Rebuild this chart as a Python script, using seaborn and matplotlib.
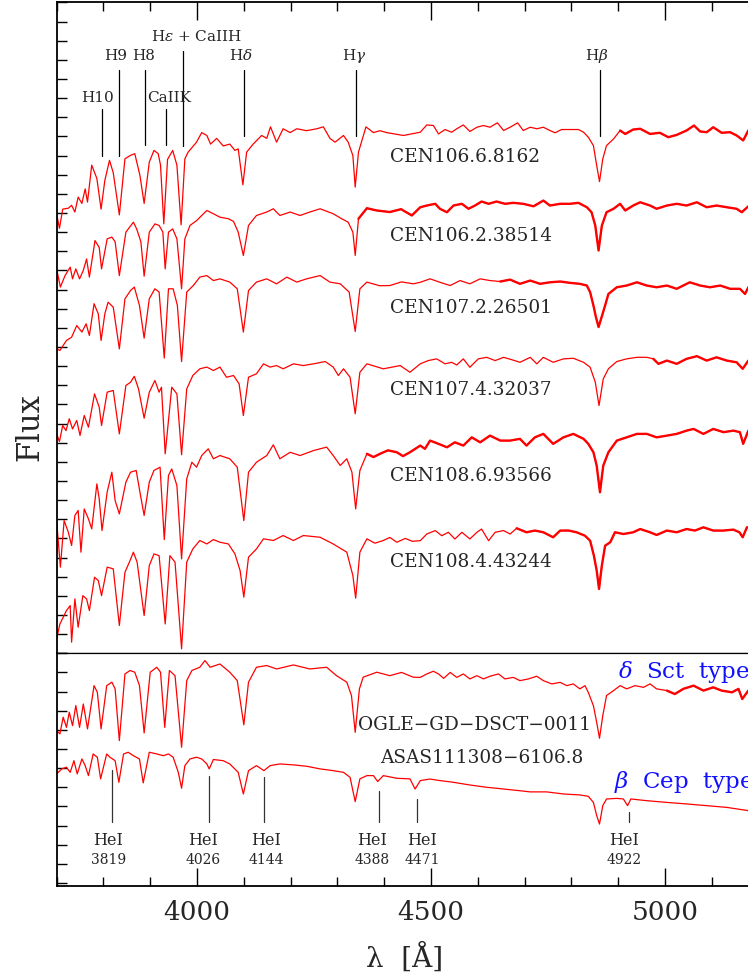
import pandas as pd
import seaborn as sns
import matplotlib.pyplot as plt
from matplotlib.ticker import MultipleLocator

# spectra: (wavelength [A], flux in tick units, offsets included)
cen106_6_8162 = [
    (3700, 22.96), (3706, 22.2), (3713, 23.2), (3725, 23.25), (3732, 23.4), (3739, 23.05),
    (3746, 23.83), (3754, 23.5), (3761, 24.26), (3766, 23.57), (3775, 25.5), (3786, 24.8),
    (3795, 23.2), (3803, 24.7), (3813, 25.75), (3821, 25.1), (3834, 22.9), (3846, 25.83),
    (3857, 26.0), (3867, 26.1), (3878, 24.96), (3887, 23.5), (3898, 25.66), (3908, 26.27),
    (3917, 26.1), (3922, 25.5), (3929, 22.43), (3937, 25.8), (3948, 26.27), (3957, 25.5),
    (3966, 22.38), (3974, 25.83), (3981, 26.18), (3999, 26.7), (4010, 27.2), (4021, 27.05),
    (4029, 26.6), (4042, 26.9), (4056, 26.5), (4070, 26.6), (4081, 26.27), (4088, 26.35),
    (4098, 24.47), (4106, 26.18), (4120, 26.6), (4138, 27.05), (4149, 26.9), (4157, 27.5),
    (4170, 26.7), (4184, 27.4), (4199, 27.2), (4213, 27.4), (4234, 27.3), (4256, 27.4),
    (4270, 27.5), (4284, 26.9), (4295, 26.7), (4313, 27.05), (4323, 26.7), (4333, 26.0),
    (4338, 24.35), (4345, 26.18), (4361, 27.5), (4377, 27.2), (4391, 27.3), (4405, 27.2),
    (4441, 27.05), (4477, 27.22), (4491, 27.6), (4505, 27.57), (4516, 27.13), (4530, 27.36),
    (4544, 27.22), (4555, 27.4), (4569, 27.6), (4583, 27.26), (4598, 27.48), (4612, 27.57),
    (4626, 27.48), (4642, 27.71), (4655, 27.31), (4669, 27.48), (4685, 27.71), (4697, 27.31),
    (4712, 27.48), (4726, 27.4), (4740, 27.48), (4754, 27.31), (4765, 27.19), (4779, 27.36),
    (4797, 27.36), (4815, 27.36), (4826, 27.22), (4836, 26.96), (4847, 26.52), (4854, 25.48),
    (4860, 24.64), (4867, 25.83), (4875, 26.52), (4890, 26.87), (4904, 27.31), (4915, 27.13),
    (4932, 27.36), (4947, 27.4), (4968, 27.13), (4989, 27.19), (5007, 26.96), (5025, 27.08),
    (5046, 27.31), (5062, 27.57), (5075, 27.26), (5089, 27.22), (5103, 27.48), (5121, 27.19),
    (5139, 27.22), (5153, 27.05), (5167, 26.79), (5178, 27.31), (5200, 27.2),
]
cen106_2_38514 = [
    (3700, 20.08), (3708, 19.13), (3718, 19.73), (3729, 20.17), (3734, 19.56), (3741, 20.08),
    (3749, 19.56), (3757, 20.0), (3764, 20.6), (3770, 19.65), (3782, 21.56), (3791, 21.2),
    (3796, 20.08), (3808, 21.65), (3818, 21.74), (3825, 21.5), (3834, 19.73), (3848, 22.0),
    (3864, 22.52), (3871, 22.17), (3880, 21.5), (3887, 19.7), (3898, 22.0), (3910, 22.43),
    (3919, 22.35), (3927, 22.0), (3932, 20.08), (3939, 22.0), (3948, 22.17), (3957, 21.65),
    (3967, 19.04), (3974, 21.65), (3985, 22.35), (3999, 22.6), (4010, 22.87), (4021, 23.13),
    (4035, 22.96), (4049, 22.78), (4067, 22.7), (4078, 22.56), (4088, 22.0), (4099, 20.78),
    (4110, 22.35), (4127, 22.87), (4149, 23.05), (4163, 23.22), (4177, 22.87), (4199, 23.05),
    (4220, 22.87), (4241, 23.05), (4263, 23.22), (4291, 22.96), (4309, 22.7), (4323, 22.52),
    (4333, 22.0), (4338, 20.78), (4345, 22.7), (4363, 23.25), (4384, 23.13), (4412, 23.05),
    (4436, 23.2), (4459, 22.87), (4477, 23.3), (4491, 23.39), (4509, 23.48), (4519, 23.22),
    (4534, 23.04), (4548, 23.39), (4566, 23.48), (4580, 23.22), (4594, 23.39), (4608, 23.6),
    (4623, 23.48), (4640, 23.6), (4658, 23.48), (4676, 23.53), (4697, 23.48), (4719, 23.35),
    (4740, 23.65), (4754, 23.39), (4776, 23.48), (4797, 23.48), (4815, 23.53), (4833, 23.3),
    (4843, 23.04), (4851, 22.34), (4858, 21.04), (4865, 22.34), (4875, 23.04), (4890, 23.22),
    (4904, 23.48), (4915, 23.13), (4932, 23.39), (4947, 23.56), (4968, 23.39), (4982, 23.22),
    (5004, 23.39), (5025, 23.48), (5046, 23.39), (5068, 23.56), (5089, 23.3), (5110, 23.39),
    (5132, 23.3), (5153, 23.22), (5164, 23.04), (5178, 23.35), (5200, 23.3),
]
cen107_2_26501 = [
    (3700, 15.9), (3707, 15.82), (3721, 16.34), (3732, 16.51), (3743, 17.12), (3754, 16.78),
    (3763, 17.21), (3770, 16.6), (3780, 18.26), (3789, 17.73), (3795, 16.34), (3803, 17.73),
    (3810, 18.34), (3821, 18.08), (3834, 15.9), (3846, 18.52), (3858, 18.95), (3866, 19.13),
    (3877, 18.17), (3887, 16.46), (3898, 18.52), (3910, 19.04), (3919, 18.87), (3930, 15.42),
    (3939, 19.04), (3949, 19.04), (3958, 18.17), (3967, 15.24), (3978, 18.87), (3992, 19.21),
    (4006, 19.65), (4021, 19.73), (4035, 19.47), (4049, 19.56), (4070, 19.39), (4086, 19.04),
    (4099, 16.78), (4110, 18.95), (4127, 19.39), (4149, 19.56), (4170, 19.3), (4192, 19.65),
    (4213, 19.39), (4234, 19.56), (4263, 19.73), (4284, 19.39), (4306, 19.3), (4325, 18.87),
    (4338, 16.81), (4348, 19.04), (4363, 19.39), (4390, 19.2), (4412, 19.21), (4437, 19.4),
    (4462, 19.3), (4477, 19.38), (4498, 19.56), (4519, 19.38), (4541, 19.21), (4562, 19.47),
    (4583, 19.3), (4605, 19.56), (4626, 19.47), (4648, 19.42), (4669, 19.52), (4690, 19.3),
    (4712, 19.47), (4733, 19.3), (4754, 19.38), (4776, 19.42), (4797, 19.35), (4818, 19.3),
    (4833, 19.21), (4840, 18.86), (4847, 18.17), (4852, 17.6), (4858, 17.04), (4865, 17.6),
    (4872, 18.17), (4879, 18.77), (4897, 19.12), (4918, 19.21), (4940, 19.38), (4961, 19.21),
    (4982, 19.12), (5004, 19.21), (5025, 19.04), (5053, 19.38), (5075, 19.21), (5096, 19.12),
    (5118, 19.21), (5139, 19.04), (5160, 19.04), (5171, 18.77), (5178, 19.12), (5200, 19.2),
]
cen107_4_32037 = [
    (3700, 11.46), (3706, 11.06), (3713, 11.9), (3720, 11.63), (3727, 12.25), (3734, 11.72),
    (3743, 12.16), (3750, 11.38), (3759, 12.42), (3768, 11.81), (3781, 13.55), (3791, 12.86),
    (3796, 11.9), (3808, 13.64), (3821, 13.73), (3834, 11.46), (3848, 13.99), (3858, 14.16),
    (3866, 14.47), (3875, 13.81), (3887, 12.28), (3898, 13.64), (3910, 14.25), (3919, 13.64),
    (3924, 13.9), (3932, 10.42), (3946, 13.9), (3957, 13.55), (3967, 10.37), (3978, 13.81),
    (3991, 14.51), (4006, 14.86), (4021, 14.95), (4035, 14.77), (4049, 14.95), (4063, 14.42),
    (4078, 14.51), (4090, 14.07), (4099, 12.42), (4110, 14.42), (4127, 14.6), (4142, 15.12),
    (4156, 14.95), (4170, 15.03), (4184, 14.86), (4206, 15.12), (4227, 15.03), (4249, 15.12),
    (4274, 15.24), (4291, 14.95), (4302, 14.51), (4313, 14.86), (4327, 14.42), (4338, 12.51),
    (4348, 14.68), (4363, 15.12), (4398, 14.86), (4434, 15.03), (4455, 14.68), (4477, 15.12),
    (4494, 15.29), (4512, 15.38), (4530, 15.12), (4544, 15.2), (4555, 15.06), (4569, 15.38),
    (4583, 14.94), (4601, 15.38), (4619, 15.46), (4637, 15.29), (4655, 15.46), (4672, 15.34),
    (4690, 15.2), (4712, 15.46), (4726, 15.12), (4740, 15.46), (4761, 15.2), (4783, 15.38),
    (4804, 15.41), (4826, 15.2), (4840, 14.94), (4851, 14.16), (4859, 12.94), (4868, 14.33),
    (4879, 14.86), (4897, 15.24), (4918, 15.38), (4940, 15.46), (4961, 15.46), (4975, 15.38),
    (4986, 15.12), (5004, 15.29), (5025, 15.12), (5046, 15.38), (5068, 15.52), (5089, 15.29),
    (5110, 15.46), (5132, 15.29), (5153, 15.2), (5166, 14.86), (5178, 15.29), (5200, 15.2),
]
cen108_6_93566 = [
    (3700, 6.93), (3708, 4.5), (3716, 6.93), (3725, 6.32), (3732, 5.63), (3739, 7.2),
    (3746, 7.46), (3752, 5.28), (3759, 7.54), (3768, 7.02), (3775, 6.5), (3786, 8.85),
    (3791, 8.07), (3797, 6.41), (3808, 8.42), (3818, 9.46), (3825, 7.98), (3834, 7.28),
    (3848, 8.94), (3858, 9.46), (3870, 9.55), (3878, 8.42), (3887, 7.2), (3898, 8.94),
    (3908, 9.55), (3921, 9.72), (3930, 5.94), (3939, 9.29), (3946, 9.63), (3957, 8.76),
    (3967, 4.93), (3978, 9.11), (3989, 9.98), (3999, 9.72), (4010, 10.33), (4024, 10.68),
    (4035, 10.16), (4049, 10.33), (4070, 10.16), (4086, 9.72), (4100, 6.93), (4110, 9.46),
    (4127, 9.98), (4149, 10.33), (4163, 10.89), (4177, 10.16), (4199, 10.5), (4220, 10.33),
    (4249, 10.59), (4277, 10.77), (4291, 10.33), (4306, 9.81), (4320, 10.16), (4331, 9.46),
    (4339, 7.54), (4348, 9.55), (4363, 10.42), (4377, 10.25), (4391, 10.42), (4408, 10.6),
    (4427, 10.5), (4440, 10.3), (4455, 10.5), (4477, 10.85), (4487, 10.68), (4498, 11.11),
    (4516, 10.94), (4534, 10.76), (4551, 11.02), (4569, 10.85), (4587, 11.28), (4605, 11.02),
    (4626, 11.37), (4648, 11.11), (4669, 11.11), (4690, 11.2), (4704, 10.85), (4722, 11.28),
    (4740, 11.46), (4761, 10.94), (4783, 11.28), (4804, 11.46), (4826, 11.2), (4836, 10.94),
    (4847, 10.5), (4854, 9.8), (4861, 8.41), (4868, 9.8), (4879, 10.5), (4897, 11.11),
    (4918, 11.28), (4940, 11.46), (4961, 11.46), (4982, 11.28), (5004, 11.37), (5025, 11.46),
    (5046, 11.63), (5061, 11.72), (5082, 11.46), (5103, 11.72), (5125, 11.55), (5146, 11.63),
    (5160, 11.55), (5167, 10.94), (5178, 11.63), (5200, 11.6),
]
cen108_4_43244 = [
    (3700, 0.75), (3707, 1.53), (3714, 1.88), (3721, 2.23), (3729, 2.49), (3732, 0.58),
    (3739, 2.84), (3746, 1.36), (3756, 3.01), (3764, 2.84), (3770, 2.23), (3781, 3.97),
    (3789, 3.8), (3796, 3.01), (3808, 4.5), (3821, 4.41), (3834, 1.45), (3846, 4.23),
    (3857, 4.85), (3864, 5.28), (3872, 4.76), (3887, 1.97), (3898, 4.58), (3908, 5.19),
    (3919, 5.1), (3932, 1.53), (3942, 5.1), (3953, 4.76), (3967, 0.23), (3978, 4.76),
    (3991, 5.45), (4006, 5.89), (4021, 5.71), (4035, 5.94), (4049, 5.8), (4067, 5.71),
    (4081, 5.19), (4092, 4.32), (4100, 2.93), (4110, 5.02), (4127, 5.45), (4142, 5.98),
    (4163, 5.89), (4184, 6.15), (4206, 5.89), (4227, 6.15), (4263, 6.06), (4291, 5.71),
    (4320, 5.28), (4333, 4.06), (4339, 2.88), (4348, 5.28), (4363, 5.98), (4380, 5.75),
    (4398, 5.89), (4412, 6.05), (4427, 5.8), (4445, 6.0), (4460, 5.85), (4477, 5.88),
    (4491, 6.23), (4509, 6.41), (4523, 6.14), (4537, 6.32), (4551, 5.97), (4566, 6.32),
    (4583, 5.97), (4598, 6.32), (4608, 6.49), (4623, 5.88), (4637, 6.32), (4655, 6.41),
    (4669, 6.23), (4683, 6.53), (4704, 6.32), (4722, 6.41), (4740, 6.32), (4761, 6.06),
    (4776, 6.41), (4794, 6.41), (4811, 6.32), (4829, 6.14), (4840, 5.88), (4848, 5.1),
    (4854, 4.32), (4859, 3.36), (4865, 4.58), (4872, 5.62), (4883, 5.8), (4893, 6.32),
    (4911, 6.23), (4932, 6.32), (4947, 6.49), (4968, 6.32), (4982, 6.18), (5004, 6.41),
    (5025, 6.32), (5046, 6.49), (5064, 6.41), (5082, 6.58), (5103, 6.41), (5125, 6.41),
    (5146, 6.46), (5159, 6.32), (5166, 6.06), (5175, 6.58), (5200, 6.5),
]
ogle_gd_dsct_0011 = [
    (3700, 7.96), (3707, 7.79), (3714, 8.66), (3721, 8.13), (3727, 8.92), (3734, 8.22),
    (3741, 9.27), (3749, 8.13), (3757, 9.35), (3766, 8.05), (3780, 10.31), (3787, 9.96),
    (3795, 8.05), (3807, 10.31), (3818, 10.49), (3825, 10.14), (3834, 7.44), (3846, 10.92),
    (3857, 11.1), (3867, 11.01), (3877, 10.31), (3887, 7.84), (3900, 11.01), (3914, 11.27),
    (3922, 11.01), (3931, 8.13), (3941, 11.1), (3953, 10.83), (3967, 7.09), (3978, 10.57),
    (3989, 11.1), (4006, 11.27), (4017, 11.62), (4028, 11.27), (4049, 11.44), (4070, 11.01),
    (4086, 10.57), (4100, 8.26), (4110, 10.49), (4127, 11.27), (4149, 11.36), (4170, 11.18),
    (4206, 11.39), (4241, 11.18), (4277, 11.27), (4298, 10.83), (4320, 10.49), (4330, 9.79),
    (4338, 7.87), (4347, 10.14), (4355, 10.75), (4384, 11.01), (4412, 10.83), (4437, 11.0),
    (4462, 10.75), (4477, 10.74), (4491, 10.92), (4505, 11.06), (4516, 10.92), (4527, 10.69),
    (4541, 11.0), (4555, 10.74), (4569, 10.92), (4583, 10.66), (4598, 10.83), (4612, 10.66),
    (4626, 10.8), (4644, 10.92), (4658, 10.66), (4676, 10.74), (4690, 10.57), (4708, 10.66),
    (4726, 10.8), (4740, 10.57), (4758, 10.4), (4776, 10.48), (4790, 10.31), (4804, 10.4),
    (4818, 10.14), (4829, 10.31), (4836, 9.96), (4847, 9.26), (4854, 8.39), (4860, 7.56),
    (4867, 8.74), (4875, 9.79), (4890, 10.05), (4904, 10.31), (4918, 10.14), (4936, 10.31),
    (4954, 10.22), (4968, 10.4), (4982, 10.14), (5004, 10.05), (5021, 9.87), (5039, 10.14),
    (5061, 10.31), (5082, 10.05), (5103, 10.22), (5121, 10.05), (5143, 9.96), (5157, 10.14),
    (5165, 9.61), (5178, 10.05), (5200, 10.1),
]
asas111308_6106_8 = [
    (3700, 5.7), (3711, 5.96), (3721, 6.05), (3729, 5.78), (3737, 6.39), (3744, 5.7),
    (3754, 6.48), (3761, 6.13), (3768, 5.61), (3778, 6.74), (3787, 6.57), (3794, 5.44),
    (3807, 6.74), (3814, 6.57), (3825, 6.39), (3833, 5.26), (3843, 6.74), (3853, 6.83),
    (3864, 6.65), (3877, 6.48), (3885, 5.23), (3898, 6.83), (3914, 6.74), (3928, 6.65),
    (3939, 6.74), (3949, 6.57), (3960, 5.78), (3967, 4.95), (3974, 6.13), (3985, 6.48),
    (3999, 6.57), (4010, 6.48), (4021, 6.22), (4026, 5.96), (4035, 6.45), (4056, 6.39),
    (4070, 6.22), (4088, 5.78), (4099, 4.65), (4110, 5.87), (4127, 6.13), (4143, 5.87),
    (4156, 6.13), (4177, 6.22), (4206, 6.17), (4234, 6.1), (4263, 5.96), (4291, 5.87),
    (4313, 5.78), (4327, 5.52), (4338, 4.25), (4348, 5.44), (4363, 5.61), (4377, 5.61),
    (4386, 5.3), (4398, 5.61), (4427, 5.47), (4455, 5.44), (4466, 4.91), (4477, 5.35),
    (4498, 5.43), (4519, 5.35), (4548, 5.26), (4583, 5.12), (4619, 5.0), (4655, 4.91),
    (4690, 4.82), (4712, 4.76), (4747, 4.76), (4783, 4.65), (4818, 4.6), (4836, 4.53),
    (4847, 4.21), (4854, 3.52), (4860, 3.08), (4867, 4.04), (4875, 4.39), (4897, 4.42),
    (4911, 4.39), (4920, 4.04), (4927, 4.39), (4961, 4.3), (5004, 4.21), (5046, 4.13),
    (5089, 4.04), (5132, 3.95), (5178, 3.78), (5200, 3.75),
]

top_names = ["CEN106.6.8162", "CEN106.2.38514", "CEN107.2.26501",
             "CEN107.4.32037", "CEN108.6.93566", "CEN108.4.43244"]
top_spectra = [cen106_6_8162, cen106_2_38514, cen107_2_26501,
               cen107_4_32037, cen108_6_93566, cen108_4_43244]
# where the second (thicker) part of each spectrum starts
top_thick_from = [4900, 4345, 4630, 4970, 4360, 4683]
top_label_y = [25.98, 21.85, 18.09, 13.81, 9.32, 4.82]

bot_names = ["OGLE\u2212GD\u2212DSCT\u22120011", "ASAS111308\u22126106.8"]
bot_spectra = [ogle_gd_dsct_0011, asas111308_6106_8]
bot_thick_from = [5000, None]

# line identifications
h_lines = [r"H10", r"H9", r"H8", r"CaIIK", r"H$\epsilon$ + CaIIH", r"H$\delta$", r"H$\gamma$", r"H$\beta$"]
h_wl = [3797, 3834, 3888, 3934, 3969, 4101, 4340, 4860]
h_tick_lo = [25.98, 25.98, 26.55, 26.55, 26.5, 27.03, 27.03, 27.03]
h_tick_hi = [28.44, 30.47, 30.47, 28.44, 31.47, 30.47, 30.47, 30.47]
h_label_x = [3787, 3826, 3885, 3940, 3999, 4093, 4335, 4855]
h_label_y = [29.07, 31.26, 31.26, 29.07, 32.25, 31.26, 31.26, 31.26]

he_wl = [3819, 4026, 4144, 4388, 4471, 4922]
he_tick_hi = [5.9, 5.6, 5.54, 4.82, 4.39, 3.69]
he_label_x = [3810, 4013, 4148, 4375, 4481, 4912]

sns.set_style("ticks")
plt.rcParams["font.family"] = ["DejaVu Serif"]
plt.rcParams["mathtext.fontset"] = "dejavuserif"

fig = plt.figure(figsize=(7.48, 9.79), dpi=100)
ax_top = fig.add_axes([0.0757, 0.3317, 0.9385, 0.6648])
ax_bot = fig.add_axes([0.0757, 0.0935, 0.9385, 0.2382])


def draw_spectrum(ax, pts, thick_from):
    df = pd.DataFrame(pts, columns=["wl", "flux"])
    sns.lineplot(data=df, x="wl", y="flux", ax=ax, color="red", lw=0.9,
                 estimator=None, sort=False)
    if thick_from is not None:
        sub = df[df["wl"] >= thick_from]
        sns.lineplot(data=sub, x="wl", y="flux", ax=ax, color="red", lw=1.7,
                     estimator=None, sort=False)


for pts, tf, name, ly in zip(top_spectra, top_thick_from, top_names, top_label_y):
    draw_spectrum(ax_top, pts, tf)
    ax_top.text(4412, ly, name, fontsize=13.3, ha="left", va="center")

for pts, tf in zip(bot_spectra, bot_thick_from):
    draw_spectrum(ax_bot, pts, tf)

ax_bot.text(4345, 8.31, bot_names[0], fontsize=13.3, ha="left", va="center")
ax_bot.text(4391, 6.58, bot_names[1], fontsize=13.3, ha="left", va="center")
ax_bot.text(4900, 11.08, r"$\delta$  Sct  type", fontsize=16.5, color="#1010ff",
            ha="left", va="center")
ax_bot.text(4892, 5.33, r"$\beta$  Cep  type", fontsize=16.5, color="#1010ff",
            ha="left", va="center")

for lab, wl, lo, hi, lx, lyy in zip(h_lines, h_wl, h_tick_lo, h_tick_hi, h_label_x, h_label_y):
    ax_top.plot([wl, wl], [lo, hi], color="black", lw=0.9)
    ax_top.text(lx, lyy, lab, fontsize=11, ha="center", va="center")

for wl, hi, lx in zip(he_wl, he_tick_hi, he_label_x):
    ax_bot.plot([wl, wl], [3.2, hi], color="#333333", lw=0.9)
    ax_bot.text(lx, 2.25, "HeI", fontsize=11.5, ha="center", va="center")
    ax_bot.text(lx, 1.25, str(wl), fontsize=10, ha="center", va="center")

ax_top.set_xlim(3700, 5200)
ax_bot.set_xlim(3700, 5200)
ax_top.set_ylim(0, 34)
ax_bot.set_ylim(-0.18, 12)

for ax in (ax_top, ax_bot):
    ax.set_xlabel("")
    ax.set_ylabel("")
    ax.xaxis.set_major_locator(MultipleLocator(500))
    ax.xaxis.set_minor_locator(MultipleLocator(100))
    ax.yaxis.set_major_locator(MultipleLocator(1))
    ax.tick_params(axis="both", which="both", direction="in", width=1.0,
                   color="black", labelleft=False, right=True)
    ax.tick_params(axis="y", which="major", length=7)
    ax.tick_params(axis="x", which="major", length=13)
    ax.tick_params(axis="x", which="minor", length=6.5)
    for sp in ax.spines.values():
        sp.set_linewidth(1.3)
        sp.set_color("black")

ax_top.tick_params(axis="x", which="both", top=True, bottom=False,
                   labelbottom=False, labeltop=False)
# boundary between the two panels
ax_top.spines["bottom"].set_linewidth(0.9)
ax_bot.spines["top"].set_linewidth(0.9)
ax_bot.tick_params(axis="x", which="both", top=False, bottom=True,
                   labelbottom=True, labelsize=19, pad=9)

fig.text(30 / 748, 1 - 427 / 979, "Flux", rotation=90, fontsize=22,
         ha="center", va="center")
fig.text(405 / 748, 1 - 958 / 979, "\u03bb  [\u00c5]", fontsize=20,
         ha="center", va="center")

fig.savefig("out.png", dpi=100)
plt.close(fig)
